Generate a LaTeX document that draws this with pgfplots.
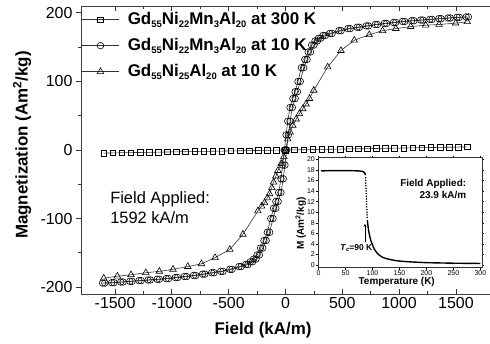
\documentclass[border=0pt]{standalone}
\usepackage{pgfplots}
\pgfplotsset{compat=1.18}
\usepackage{fontspec}
\setmainfont{Liberation Sans}
\newcommand{\sub}[1]{\raisebox{-3.5bp}{\fontsize{9.5}{9.5}\selectfont\bfseries #1}}
\newcommand{\leg}[1]{\fontsize{17}{17}\selectfont\bfseries #1}
\begin{document}
\begin{tikzpicture}
\begin{axis}[
  at={(0bp,0bp)}, anchor=south west,
  scale only axis, width=409bp, height=288bp,
  xmin=-1800, xmax=1800, ymin=-210, ymax=210,
  axis x line*=box, axis y line*=left,
  xtick={-1500,-1000,-500,0,500,1000,1500}, ytick={-200,-100,0,100,200},
  minor x tick num=1, minor y tick num=1,
  xtick align=inside, ytick align=outside,
  major tick length=5bp, minor tick length=3bp,
  tick style={black!80, line width=0.8pt},
  axis line style={line width=1pt, black!75},
  ticklabel style={font=\fontsize{16}{16}\selectfont},
  /pgf/number format/assume math mode=true,
  /pgf/number format/set thousands separator={},
  xlabel={Field (kA/m)}, ylabel={Magnetization (Am\textsuperscript{2}/kg)},
  label style={font=\fontsize{17}{17}\selectfont\bfseries},
  xlabel style={at={(axis description cs:0.445,-0.125)}, anchor=center},
  ylabel style={at={(axis description cs:-0.144,0.517)}, anchor=center},
  legend style={at={(axis description cs:0,1)}, anchor=north west, draw=none, fill=none,
    inner xsep=0pt, inner ysep=4bp, row sep=7bp,
    nodes={inner sep=1bp, text height=13bp, text depth=4bp},
    /tikz/every odd column/.append style={column sep=7bp}},
  legend cell align=left,
  legend image code/.code={\draw[mark repeat=2,mark phase=2,#1] plot coordinates {(0bp,0bp) (19bp,0bp) (38bp,0bp)};},
]
\addplot[black!80, line width=0.6pt, mark=square, mark size=2.8bp, mark options={fill=white, black, solid, line width=0.6pt}] table {
H M
-1600 -4.5
-1520 -4.3
-1440 -4.0
-1360 -3.8
-1280 -3.6
-1200 -3.4
-1120 -3.1
-1040 -2.9
-960 -2.7
-880 -2.5
-800 -2.2
-720 -2.0
-640 -1.8
-560 -1.6
-480 -1.3
-400 -1.1
-320 -0.9
-240 -0.7
-160 -0.4
-80 -0.2
0 0
80 0.2
160 0.4
240 0.7
320 0.9
400 1.1
480 1.3
560 1.6
640 1.8
720 2.0
800 2.2
880 2.5
960 2.7
1040 2.9
1120 3.1
1200 3.4
1280 3.6
1360 3.8
1440 4.0
1520 4.3
1600 4.5
};
\addlegendentry{\leg{Gd\sub{55}Ni\sub{22}Mn\sub{3}Al\sub{20} at 300 K}}
\addplot[black!80, line width=0.6pt, mark=o, mark size=3.3bp, mark options={fill=white, black, solid, line width=0.6pt}] table {
H M
-1610 -194
-1530 -193.5
-1450 -192.5
-1370 -191.5
-1290 -190.5
-1210 -189.5
-1130 -188.5
-1050 -187.5
-970 -186
-890 -184.5
-810 -183
-730 -181
-650 -179
-570 -177
-490 -174
-410 -170
-350 -167
-310 -163
-280 -159
-250 -153
-220 -143
-190 -132
-160 -120
-130 -100
-105 -85
-85 -75
-60 -62
-40 -42
-25 -22
-10 0
5 22
20 42
40 62
65 75
85 85
110 100
140 120
170 132
200 143
230 153
260 159
290 163
330 167
390 170
470 174
550 177
630 179
710 181
790 183
870 184.5
950 186
1030 187.5
1110 188.5
1190 189.5
1270 190.5
1350 191.5
1430 192.5
1510 193.5
1590 194
};
\addlegendentry{\leg{Gd\sub{55}Ni\sub{22}Mn\sub{3}Al\sub{20} at 10 K}}
\addplot[black!80, line width=0.6pt, mark=triangle, mark size=3.8bp, mark options={fill=white, black, solid, line width=0.6pt}] table {
H M
-1600 -187
-1480 -184
-1360 -182
-1230 -179
-1110 -177
-990 -174
-860 -170
-740 -166
-620 -157
-490 -145
-375 -123
-243 -89
-210 -82
-184 -77
-160 -70
-140 -64
-120 -55
-105 -47
-85 -38
-67 -30
-38 -20
-15 -10
0 -1
20 16
41 26
64 36
94 45
123 53
152 60
181 67
211 75
249 87
371 121
488 145
605 160
737 168
854 174
971 177
1102 180
1234 182
1351 183
1497 185
1600 187
};
\addlegendentry{\leg{Gd\sub{55}Ni\sub{25}Al\sub{20} at 10 K}}
\addplot[forget plot, black!80, line width=0.6pt, mark=o, mark size=3.3bp, mark options={fill=white, black, solid, line width=0.6pt}] table {
H M
-1590 -194
-1510 -193.5
-1430 -192.5
-1350 -191.5
-1270 -190.5
-1190 -189.5
-1110 -188.5
-1030 -187.5
-950 -186
-870 -184.5
-790 -183
-710 -181
-630 -179
-550 -177
-470 -174
-390 -170
-330 -167
-290 -163
-260 -159
-230 -153
-200 -143
-170 -132
-140 -120
-110 -100
-85 -85
-65 -75
-40 -62
-20 -42
-5 -22
10 0
25 22
40 42
60 62
85 75
105 85
130 100
160 120
190 132
220 143
250 153
280 159
310 163
350 167
410 170
490 174
570 177
650 179
730 181
810 183
890 184.5
970 186
1050 187.5
1130 188.5
1210 189.5
1290 190.5
1370 191.5
1450 192.5
1530 193.5
1610 194
};
\node[anchor=north west, align=left, font=\fontsize{16.5}{20}\selectfont, inner sep=0pt] at (axis cs:-1544,-61) {Field Applied:\\1592 kA/m};
\end{axis}
\begin{axis}[
  at={(237bp,26.3bp)}, anchor=south west,
  scale only axis, width=164bp, height=110bp,
  xmin=-1, xmax=303, ymin=-0.5, ymax=20.3,
  xtick={0,50,...,300}, ytick={0,2,...,20},
  tick align=outside, major tick length=2bp,
  tick style={black, line width=0.4pt},
  axis line style={line width=0.5pt, black!80},
  axis background/.style={fill=white},
  ticklabel style={font=\fontsize{7}{7}\selectfont, inner sep=1bp},
  /pgf/number format/assume math mode=true,
  xlabel={Temperature (K)}, ylabel={M (Am\textsuperscript{2}/kg)},
  label style={font=\fontsize{10}{10}\selectfont\bfseries},
  xlabel style={at={(axis description cs:0.48,-0.127)}, anchor=center},
  ylabel style={at={(axis description cs:-0.105,0.40)}, anchor=center},
]
\addplot[black, line width=1.4pt] table {
T M
5 17.8
20 17.85
40 17.85
60 17.85
75 17.8
82 17.7
85 17.5
86.5 17.2
87 17.0
};
\addplot[only marks, black, mark=*, mark size=0.55bp] table {
T M
87.2 16.5
87.4 16.0
87.6 15.5
87.8 15.0
88 14.5
88.2 14.0
88.4 13.5
88.6 13.0
88.8 12.5
89 12.0
89.2 11.5
89.4 11.0
89.6 10.5
89.8 10.0
90 9.5
90.2 9.0
};
\addplot[black, line width=1.4pt] table {
T M
90.5 8.5
91 8.0
92 7.1
93 6.4
95 5.4
97 4.6
100 3.8
103 3.1
106 2.6
110 2.1
115 1.7
120 1.4
130 1.1
140 0.9
150 0.75
170 0.6
200 0.45
250 0.35
300 0.3
};
\node[anchor=north east, align=right, font=\fontsize{10}{12.5}\selectfont\bfseries, inner sep=0pt] at (axis cs:274,16.3) {Field Applied:\\23.9 kA/m};
\node[anchor=west, font=\fontsize{8.5}{8.5}\selectfont\bfseries, inner sep=0pt] at (axis cs:40,3.2) {\textit{T}\raisebox{-1.5bp}{\fontsize{6}{6}\selectfont\itshape c}=90 K};
\draw[->, >=stealth, line width=0.4pt] (axis cs:86,4.4) -- (axis cs:86,7.8);
\end{axis}
\pgfresetboundingbox
\useasboundingbox (-81bp,-50bp) rectangle (409bp,294bp);
\end{tikzpicture}
\end{document}
